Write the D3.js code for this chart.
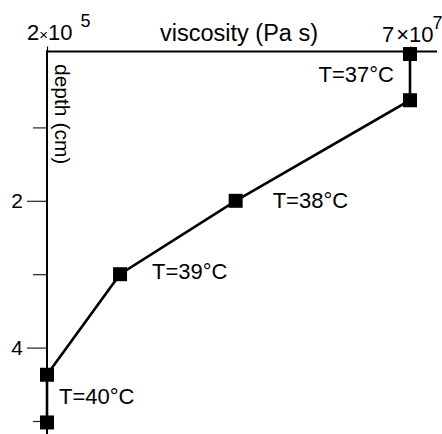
<!DOCTYPE html>
<html>
<head>
<meta charset="utf-8">
<script src="https://cdn.jsdelivr.net/npm/d3@7"></script>
<style>
  html, body { margin: 0; padding: 0; background: #fff; }
  svg { display: block; font-family: "Liberation Sans", Arial, sans-serif; }
</style>
</head>
<body>
<svg id="chart" width="442" height="434"></svg>
<script>
// Viscosity profile with depth, one point per measured layer
const viscosity = [7e7, 7e7, 4.2e6, 6.5e5, 2e5, 2e5];   // Pa s
const depth     = [0, 0.63, 2, 3, 4.37, 5.02];         // cm

// Temperature annotations: which points they sit beside
const tempLabels = ["T=37°C", "T=38°C", "T=39°C", "T=40°C"];
const tempPoints = [[0, 1], [2], [3], [4, 5]];

// Axis ticks
const viscTicks  = [2e5, 7e7];
const viscMant   = ["2", "7"];
const viscExp    = ["5", "7"];
const depthTicks = [1, 2, 3, 4, 5];
const depthTickLabels = ["", "2", "", "4", ""];

const svg = d3.select("#chart");

const x = d3.scaleLog().domain([2e5, 7e7]).range([47, 410]);
const y = d3.scaleLinear().domain([0, 5]).range([54, 421]);

const axisY = 51.5;   // top (viscosity) axis position
const axisX = 47;     // left (depth) axis position

// Top viscosity axis
const gx = svg.append("g")
  .attr("transform", `translate(0,${axisY})`)
  .call(d3.axisTop(x).tickValues(viscTicks).tickSize(5).tickFormat("").tickSizeOuter(0));
gx.select(".domain").attr("d", `M${axisX - 1},0H437`).attr("stroke", "#000").attr("stroke-width", 2);
gx.selectAll(".tick line").attr("stroke", "#000").attr("stroke-width", 1.2);

// Left depth axis
const gy = svg.append("g")
  .attr("transform", `translate(${axisX},0)`)
  .call(d3.axisLeft(y).tickValues(depthTicks).tickSize(20)
    .tickFormat((d, i) => depthTickLabels[i]).tickSizeOuter(0));
gy.select(".domain").attr("d", `M0,${axisY - 1}V434`).attr("stroke", "#000").attr("stroke-width", 2);
gy.selectAll(".tick line")
  .attr("stroke", "#222").attr("stroke-width", 1.2)
  .attr("x2", (d, i) => depthTickLabels[i] ? -20 : -14);
gy.selectAll(".tick text")
  .attr("font-family", "Liberation Sans, Arial, sans-serif")
  .attr("font-size", 21).attr("fill", "#000")
  .attr("x", -24).attr("dy", "0.33em");

// Viscosity tick labels written as mantissa × 10^exponent
const vfmt = [
  { dx: -20, y: 40, timesSize: 15, timesDx: 0, supDx: 8 },
  { dx: -28, y: 42, timesSize: 22, timesDx: 2, supDx: -1 }
];
const vlab = svg.append("g").selectAll("text").data(viscTicks).join("text")
  .attr("x", (d, i) => x(d) + vfmt[i].dx)
  .attr("y", (d, i) => vfmt[i].y)
  .attr("font-size", 22);
vlab.append("tspan").text((d, i) => viscMant[i]);
vlab.append("tspan")
  .attr("dx", (d, i) => vfmt[i].timesDx)
  .attr("font-size", (d, i) => vfmt[i].timesSize)
  .text("×");
vlab.append("tspan").text("10");
vlab.append("tspan")
  .attr("dx", (d, i) => vfmt[i].supDx).attr("dy", -13)
  .attr("font-size", 18)
  .text((d, i) => viscExp[i]);

// Axis titles
svg.append("text")
  .attr("x", 160).attr("y", 41)
  .attr("font-size", 23.5)
  .text("viscosity (Pa s)");

svg.append("text")
  .attr("transform", "translate(55,64) rotate(90)")
  .attr("font-size", 21)
  .text("depth (cm)");

// Profile line
const pts = viscosity.map((v, i) => [x(v), y(depth[i])]);
svg.append("path")
  .attr("d", d3.line()(pts))
  .attr("fill", "none").attr("stroke", "#000").attr("stroke-width", 2.6)
  .attr("stroke-linejoin", "miter");

// Square markers
const ms = 14;
svg.append("g").selectAll("rect").data(pts).join("rect")
  .attr("x", d => d[0] - ms / 2).attr("y", d => d[1] - ms / 2)
  .attr("width", ms).attr("height", ms).attr("fill", "#000");

// Temperature annotations
const place = [
  { dx: -16, dy: 5, anchor: "end" },
  { dx: 37, dy: 7, anchor: "start" },
  { dx: 32, dy: 5, anchor: "start" },
  { dx: 12, dy: 5, anchor: "start" }
];
svg.append("g").selectAll("text").data(tempLabels).join("text")
  .attr("x", (d, i) => d3.mean(tempPoints[i], j => pts[j][0]) + place[i].dx)
  .attr("y", (d, i) => d3.mean(tempPoints[i], j => pts[j][1]) + place[i].dy)
  .attr("text-anchor", (d, i) => place[i].anchor)
  .attr("font-size", 22)
  .text(d => d);
</script>
</body>
</html>
